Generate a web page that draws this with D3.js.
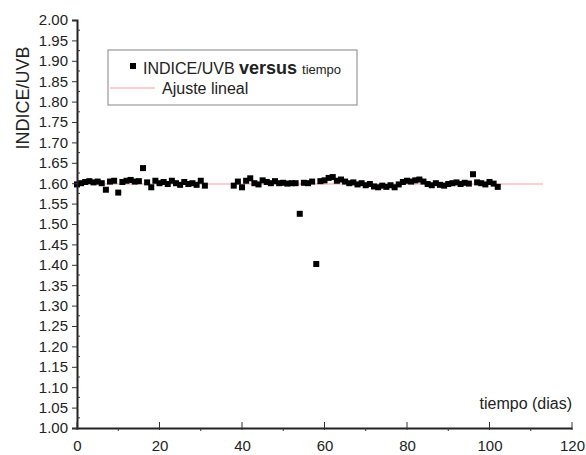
<!DOCTYPE html>
<html>
<head>
<meta charset="utf-8">
<script src="https://cdn.jsdelivr.net/npm/d3@7"></script>
<style>
  body { margin: 0; background: #fff; }
  text { font-family: "Liberation Sans", Arial, sans-serif; fill: #222; }
</style>
</head>
<body>
<svg id="chart" width="586" height="455"></svg>
<script>
// datos
var dias = [0,1,2,3,4,5,6,7,8,9,10,11,12,13,14,15,16,17,18,19,20,21,22,23,24,25,26,27,28,29,30,31,
            38,39,40,41,42,43,44,45,46,47,48,49,50,51,52,53,54,55,56,57,58,59,60,61,62,63,64,65,66,67,68,69,70,
            71,72,73,74,75,76,77,78,79,80,81,82,83,84,85,86,87,88,89,90,91,92,93,94,95,96,97,98,99,100,101,102];
var indice = [1.597,1.600,1.603,1.605,1.602,1.604,1.600,1.584,1.604,1.606,1.577,1.603,1.606,1.608,1.604,1.605,1.637,1.602,1.590,1.606,1.600,1.603,1.598,1.606,1.600,1.596,1.603,1.598,1.600,1.596,1.606,1.594,
              1.594,1.604,1.590,1.606,1.612,1.600,1.597,1.607,1.603,1.600,1.605,1.600,1.601,1.599,1.600,1.600,1.525,1.601,1.600,1.604,1.402,1.605,1.607,1.613,1.615,1.606,1.609,1.604,1.600,1.602,1.597,1.600,1.595,
              1.598,1.592,1.590,1.594,1.591,1.595,1.590,1.597,1.603,1.606,1.604,1.607,1.609,1.604,1.598,1.595,1.600,1.596,1.594,1.598,1.600,1.602,1.598,1.601,1.599,1.622,1.602,1.600,1.597,1.603,1.599,1.591];
var ajusteX = [0, 113];
var ajusteY = [1.598, 1.598];
var xTicks = [0, 20, 40, 60, 80, 100, 120];
var xMinor = [10, 30, 50, 70, 90, 110];
var yTicks = d3.range(0, 21).map(function(i){ return +(1 + i * 0.05).toFixed(2); });
var yMinor = d3.range(0, 20).map(function(i){ return 1.025 + i * 0.05; });

var xTitle = "tiempo (dias)";
var yTitle = "INDICE/UVB";

var svg = d3.select("#chart");

var x = d3.scaleLinear().domain([0, 120]).range([77, 572]);
var y = d3.scaleLinear().domain([1, 2]).range([428, 20]);

// linea de ajuste
svg.append("line")
  .attr("x1", x(ajusteX[0])).attr("x2", x(ajusteX[1]))
  .attr("y1", y(ajusteY[0])).attr("y2", y(ajusteY[1]))
  .attr("stroke", "#f0a0a8")
  .attr("stroke-width", 1.2);

// puntos
svg.selectAll("rect.dot").data(dias)
  .enter()
  .append("rect")
  .attr("class", "dot")
  .attr("x", function(d){ return x(d) - 3; })
  .attr("y", function(d, i){ return y(indice[i]) - 3; })
  .attr("width", 6)
  .attr("height", 6)
  .attr("fill", "#000");

// eje Y
var gy = svg.append("g").attr("transform", "translate(" + x(0) + ",0)");
gy.call(d3.axisLeft(y).tickValues(yTicks).tickFormat(d3.format(".2f")).tickSizeOuter(0).tickSize(5).tickPadding(4));
gy.selectAll(".minor").data(yMinor).enter().append("line")
  .attr("class", "minor")
  .attr("x1", 0).attr("x2", 3)
  .attr("y1", function(d){ return y(d); }).attr("y2", function(d){ return y(d); })
  .attr("stroke", "#333");

// eje X
var gx = svg.append("g").attr("transform", "translate(0," + y(1) + ")");
gx.call(d3.axisBottom(x).tickValues(xTicks).tickSizeOuter(0).tickSize(0).tickPadding(12));
gx.selectAll(".major").data(xTicks).enter().append("line")
  .attr("class", "major")
  .attr("x1", function(d){ return x(d); }).attr("x2", function(d){ return x(d); })
  .attr("y1", -6).attr("y2", 2)
  .attr("stroke", "#333");
gx.selectAll(".minor").data(xMinor).enter().append("line")
  .attr("class", "minor")
  .attr("x1", function(d){ return x(d); }).attr("x2", function(d){ return x(d); })
  .attr("y1", 0).attr("y2", 3)
  .attr("stroke", "#333");

svg.selectAll(".domain").attr("stroke", "#222").attr("stroke-width", 2);
svg.selectAll(".tick line").attr("stroke", "#333");
svg.selectAll(".tick text").style("font-size", "15px").attr("fill", "#333");

// titulos
svg.append("text")
  .attr("transform", "rotate(-90)")
  .attr("x", -98)
  .attr("y", 29)
  .style("text-anchor", "middle")
  .style("font-size", "18px")
  .text(yTitle);

svg.append("text")
  .attr("x", 572)
  .attr("y", 409)
  .style("text-anchor", "end")
  .style("font-size", "16px")
  .text(xTitle);

// leyenda
var leg = svg.append("g");
leg.append("rect")
  .attr("x", 108).attr("y", 50)
  .attr("width", 249).attr("height", 55)
  .attr("fill", "#fff")
  .attr("stroke", "#999")
  .attr("stroke-width", 1.2);
leg.append("rect")
  .attr("x", 130).attr("y", 63)
  .attr("width", 6).attr("height", 6)
  .attr("fill", "#000");
var t1 = leg.append("text").attr("x", 143).attr("y", 74).style("font-size", "16px");
t1.append("tspan").text("INDICE/UVB ");
t1.append("tspan").style("font-size", "18px").style("font-weight", "bold").text("versus ");
t1.append("tspan").style("font-size", "13px").text("tiempo");
leg.append("line")
  .attr("x1", 110).attr("x2", 155)
  .attr("y1", 88).attr("y2", 88)
  .attr("stroke", "#f0a0a8")
  .attr("stroke-width", 1.2);
leg.append("text")
  .attr("x", 162).attr("y", 94)
  .style("font-size", "16px")
  .text("Ajuste lineal");
</script>
</body>
</html>
